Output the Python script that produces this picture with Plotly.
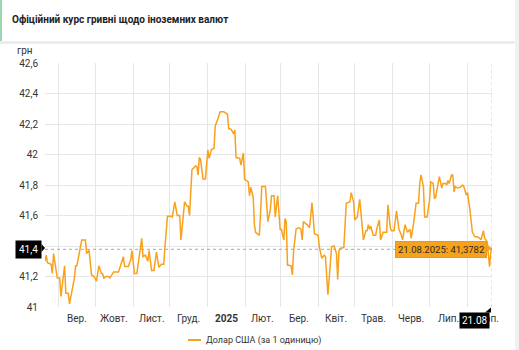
import pandas as pd
import plotly.graph_objects as go

# Official UAH/USD rate, Aug 2024 - Aug 2025
dates = [
    "2024-08-21", "2024-08-22", "2024-08-23", "2024-08-26", "2024-08-27", "2024-08-28", "2024-08-31",
    "2024-09-02", "2024-09-03", "2024-09-06", "2024-09-07", "2024-09-09", "2024-09-10", "2024-09-12",
    "2024-09-14", "2024-09-15", "2024-09-16", "2024-09-20", "2024-09-23", "2024-09-24", "2024-09-26",
    "2024-09-28", "2024-09-30", "2024-10-02", "2024-10-04", "2024-10-06", "2024-10-07", "2024-10-08",
    "2024-10-10", "2024-10-12", "2024-10-13", "2024-10-16", "2024-10-20", "2024-10-24", "2024-10-25",
    "2024-10-28", "2024-10-30", "2024-10-31", "2024-11-02", "2024-11-04", "2024-11-06", "2024-11-08",
    "2024-11-09", "2024-11-11", "2024-11-13", "2024-11-14", "2024-11-16", "2024-11-18", "2024-11-20",
    "2024-11-22", "2024-11-24", "2024-11-26", "2024-11-27", "2024-11-29", "2024-12-02", "2024-12-03",
    "2024-12-05", "2024-12-06", "2024-12-07", "2024-12-09", "2024-12-10", "2024-12-13", "2024-12-15",
    "2024-12-16", "2024-12-17", "2024-12-19", "2024-12-20", "2024-12-22", "2024-12-23", "2024-12-24",
    "2024-12-25", "2024-12-26", "2024-12-28", "2024-12-30", "2024-12-31", "2025-01-01", "2025-01-02",
    "2025-01-04", "2025-01-06", "2025-01-07", "2025-01-09", "2025-01-11", "2025-01-14", "2025-01-16",
    "2025-01-17", "2025-01-18", "2025-01-20", "2025-01-22", "2025-01-23", "2025-01-24", "2025-01-27",
    "2025-01-28", "2025-01-30", "2025-01-31", "2025-02-03", "2025-02-04", "2025-02-05", "2025-02-07",
    "2025-02-08", "2025-02-09", "2025-02-12", "2025-02-13", "2025-02-14", "2025-02-17", "2025-02-18",
    "2025-02-19", "2025-02-21", "2025-02-22", "2025-02-24", "2025-02-25", "2025-02-27", "2025-02-28",
    "2025-03-01", "2025-03-02", "2025-03-04", "2025-03-05", "2025-03-06", "2025-03-07", "2025-03-10",
    "2025-03-11", "2025-03-12", "2025-03-14", "2025-03-16", "2025-03-18", "2025-03-19", "2025-03-20",
    "2025-03-23", "2025-03-25", "2025-03-26", "2025-03-27", "2025-03-28", "2025-03-29", "2025-04-01",
    "2025-04-02", "2025-04-04", "2025-04-06", "2025-04-07", "2025-04-08", "2025-04-09", "2025-04-10",
    "2025-04-12", "2025-04-14", "2025-04-16", "2025-04-17", "2025-04-18", "2025-04-19", "2025-04-22",
    "2025-04-24", "2025-04-27", "2025-04-28", "2025-04-30", "2025-05-01", "2025-05-03", "2025-05-05",
    "2025-05-06", "2025-05-08", "2025-05-10", "2025-05-11", "2025-05-12", "2025-05-13", "2025-05-14",
    "2025-05-16", "2025-05-18", "2025-05-19", "2025-05-21", "2025-05-22", "2025-05-24", "2025-05-27",
    "2025-05-28", "2025-05-30", "2025-05-31", "2025-06-02", "2025-06-04", "2025-06-06", "2025-06-08",
    "2025-06-09", "2025-06-11", "2025-06-13", "2025-06-15", "2025-06-16", "2025-06-18", "2025-06-20",
    "2025-06-21", "2025-06-22", "2025-06-23", "2025-06-24", "2025-06-26", "2025-06-27", "2025-06-29",
    "2025-07-01", "2025-07-02", "2025-07-04", "2025-07-05", "2025-07-06", "2025-07-08", "2025-07-09",
    "2025-07-11", "2025-07-12", "2025-07-14", "2025-07-15", "2025-07-16", "2025-07-17", "2025-07-19",
    "2025-07-20", "2025-07-21", "2025-07-22", "2025-07-24", "2025-07-26", "2025-07-28", "2025-07-29",
    "2025-07-31", "2025-08-01", "2025-08-03", "2025-08-05", "2025-08-07", "2025-08-09", "2025-08-11",
    "2025-08-12", "2025-08-14", "2025-08-15", "2025-08-16", "2025-08-17", "2025-08-19", "2025-08-20",
    "2025-08-21",
]
usd_rate = [
    41.30, 41.34, 41.29, 41.28, 41.22, 41.35, 41.19,
    41.19, 41.07, 41.27, 41.09, 41.09, 41.02, 41.11,
    41.19, 41.27, 41.27, 41.44, 41.44, 41.35, 41.37,
    41.21, 41.20, 41.17, 41.27, 41.22, 41.22, 41.19,
    41.20, 41.20, 41.19, 41.23, 41.23, 41.33, 41.265,
    41.265, 41.31, 41.37, 41.22, 41.22, 41.35, 41.45,
    41.33, 41.34, 41.30, 41.37, 41.24, 41.24, 41.36,
    41.26, 41.28, 41.28, 41.40, 41.595, 41.595, 41.59,
    41.69, 41.64, 41.60, 41.60, 41.44, 41.69, 41.66,
    41.66, 41.60, 41.90, 41.91, 41.925, 41.92, 41.865,
    41.98, 41.97, 41.84, 41.84, 41.94, 42.03, 41.975,
    42.034, 42.04, 42.187, 42.23, 42.28, 42.28, 42.27,
    42.265, 42.17, 42.165, 42.135, 42.16, 41.98, 41.975,
    41.93, 42.01, 41.837, 41.82, 41.73, 41.785, 41.72,
    41.54, 41.49, 41.47, 41.61, 41.79, 41.79, 41.66,
    41.56, 41.64, 41.73, 41.73, 41.59, 41.73, 41.61,
    41.51, 41.51, 41.44, 41.58, 41.56, 41.275, 41.27,
    41.21, 41.37, 41.51, 41.52, 41.51, 41.44, 41.56,
    41.54, 41.52, 41.636, 41.684, 41.59, 41.48, 41.47,
    41.395, 41.32, 41.34, 41.33, 41.18, 41.08, 41.18,
    41.395, 41.40, 41.35, 41.18, 41.37, 41.385, 41.39,
    41.68, 41.69, 41.75, 41.69, 41.57, 41.59, 41.706,
    41.60, 41.44, 41.50, 41.50, 41.54, 41.51, 41.53,
    41.47, 41.47, 41.516, 41.57, 41.44, 41.49, 41.49,
    41.67, 41.52, 41.50, 41.50, 41.63, 41.51, 41.47,
    41.44, 41.54, 41.49, 41.51, 41.45, 41.55, 41.68,
    41.68, 41.68, 41.81, 41.866, 41.79, 41.59, 41.59,
    41.70, 41.82, 41.81, 41.71, 41.72, 41.81, 41.855,
    41.78, 41.81, 41.81, 41.80, 41.83, 41.81, 41.866,
    41.865, 41.756, 41.79, 41.78, 41.785, 41.80, 41.79,
    41.734, 41.75, 41.636, 41.49, 41.46, 41.46, 41.45,
    41.44, 41.50, 41.45, 41.44, 41.43, 41.265, 41.36,
    41.3782,
]

month_starts = ["2024-09-01", "2024-10-01", "2024-11-01", "2024-12-01", "2025-01-01", "2025-02-01",
                "2025-03-01", "2025-04-01", "2025-05-01", "2025-06-01", "2025-07-01", "2025-08-01"]
month_labels = ["Вер.", "Жовт.", "Лист.", "Груд.", "<b>2025</b>", "Лют.", "Бер.", "Квіт.",
                "Трав.", "Черв.", "Лип.", "Серп."]
y_ticks = [41.0, 41.2, 41.4, 41.6, 41.8, 42.0, 42.2, 42.4, 42.6]
y_tick_labels = ["41", "41,2", "41,4", "41,6", "41,8", "42", "42,2", "42,4", "42,6"]

title = "Офіційний курс гривні щодо іноземних валют"
series_name = "Долар США (за 1 одиницю)"

LINE = "#f8a11c"
GRID = "#e6e6e6"
TXT = "#333333"
FONT = "Roboto, Arial, sans-serif"

W, H = 519, 350
L, R, T, B = 45, 27, 63, 43
PW, PH = W - L - R, H - T - B


def px(x):
    return (x - L) / PW


def py(y):
    return (H - B - y) / PH


x_start, x_end = dates[0], dates[-1]
last_date, last_val = dates[-1], usd_rate[-1]
cross_label = "41,4"  # rounded value shown on the y axis under the crosshair

# the axis label hidden under the crosshair badge
shown_tick_labels = ["" if t == cross_label else t for t in y_tick_labels]

fig = go.Figure()
fig.add_trace(go.Scatter(
    x=pd.to_datetime(dates), y=usd_rate, mode="lines",
    line=dict(color=LINE, width=1.5), name=series_name, showlegend=False,
    hoverinfo="skip",
))
fig.add_trace(go.Scatter(
    x=[pd.Timestamp(last_date)], y=[last_val], mode="markers",
    marker=dict(color=LINE, size=4), showlegend=False, hoverinfo="skip",
))

shapes = [
    # page background outside the cards
    dict(type="rect", xref="paper", yref="paper", x0=px(515), x1=px(530), y0=py(-10), y1=py(360),
         fillcolor="#f1f1f1", line_width=0, layer="below"),
    dict(type="rect", xref="paper", yref="paper", x0=px(-10), x1=px(515), y0=py(41), y1=py(44),
         fillcolor="#ececec", line_width=0, layer="below"),
    # green accent of the header card
    dict(type="rect", xref="paper", yref="paper", x0=px(0), x1=px(2), y0=py(0), y1=py(41),
         fillcolor="#9ad6b4", line_width=0, layer="below"),
    # crosshair
    dict(type="line", xref="paper", yref="y", x0=0, x1=1, y0=last_val, y1=last_val,
         line=dict(color="#aaaaaa", width=1, dash="dot")),
    dict(type="line", xref="x", yref="paper", x0=last_date, x1=last_date, y0=0, y1=1,
         line=dict(color="#cccccc", width=1, dash="dot")),
    # pointers of the crosshair labels
    dict(type="path", xref="paper", yref="paper",
         path=f"M{px(41.5)},{py(244)} L{px(45)},{py(248)} L{px(41.5)},{py(252)} Z",
         fillcolor="#000000", line_width=0),
    dict(type="path", xref="paper", yref="paper",
         path=f"M{px(485)},{py(312.5)} L{px(491)},{py(307.5)} L{px(491)},{py(312.5)} Z",
         fillcolor="#000000", line_width=0),
    dict(type="path", xref="paper", yref="paper",
         path=f"M{px(487)},{py(244)} L{px(491)},{py(248)} L{px(487)},{py(252)} Z",
         fillcolor="#f7a21b", line_width=0),
    # legend sample
    dict(type="line", xref="paper", yref="paper", x0=px(188), x1=px(201), y0=py(340), y1=py(340),
         line=dict(color=LINE, width=2)),
]

annotations = [
    dict(text=f"<b>{title}</b>", xref="paper", yref="paper", x=px(10), y=py(19),
         xanchor="left", yanchor="middle", showarrow=False,
         font=dict(family=FONT, size=10, color="#222222")),
    dict(text="грн", xref="paper", yref="paper", x=px(35), y=py(50),
         xanchor="right", yanchor="middle", showarrow=False,
         font=dict(family=FONT, size=10, color=TXT)),
    dict(text=series_name, xref="paper", yref="paper", x=px(204), y=py(340),
         xanchor="left", yanchor="middle", showarrow=False,
         font=dict(family=FONT, size=9, color=TXT)),
]

# month labels centred inside each month
ms = pd.to_datetime(month_starts)
bounds = list(ms) + [ms[-1] + pd.offsets.MonthBegin(1)]
for i, lab in enumerate(month_labels):
    mid = bounds[i] + (bounds[i + 1] - bounds[i]) / 2
    annotations.append(dict(text=lab, xref="x", yref="paper", x=mid, y=py(318),
                            xanchor="center", yanchor="middle", showarrow=False,
                            font=dict(family=FONT, size=10, color=TXT)))

# crosshair labels and tooltip
annotations += [
    dict(text=cross_label, xref="paper", yref="y", x=px(42), y=last_val,
         xanchor="right", yanchor="middle", showarrow=False, bgcolor="#000000",
         borderpad=3, font=dict(family=FONT, size=10, color="#ffffff")),
    dict(text="21.08", xref="paper", yref="paper", x=px(490), y=py(312),
         xanchor="right", yanchor="top", showarrow=False, bgcolor="#000000",
         borderpad=2, font=dict(family=FONT, size=10, color="#ffffff")),
    dict(text=f"21.08.2025: {str(last_val).replace('.', ',')}", xref="paper", yref="y",
         x=px(487), y=last_val, xanchor="right", yanchor="middle", showarrow=False,
         bgcolor="#f7a21b", bordercolor="#ee951a", borderwidth=1, borderpad=2,
         font=dict(family=FONT, size=9.5, color="#2b2b2b")),
]

fig.update_layout(
    width=W, height=H,
    margin=dict(l=L, r=R, t=T, b=B, pad=0),
    paper_bgcolor="#ffffff", plot_bgcolor="#ffffff",
    font=dict(family=FONT, size=10, color=TXT),
    shapes=shapes, annotations=annotations,
    xaxis=dict(type="date", range=[x_start, x_end], tickmode="array", tickvals=month_starts,
               showticklabels=False, showgrid=True, gridcolor=GRID, gridwidth=1,
               zeroline=False, showline=False, ticks=""),
    yaxis=dict(range=[41.0, 42.6], tickmode="array", tickvals=y_ticks, ticktext=shown_tick_labels,
               showgrid=True, gridcolor=GRID, gridwidth=1, zeroline=False, showline=False,
               ticks="", ticklabelstandoff=6, tickfont=dict(family=FONT, size=10, color=TXT)),
    hovermode=False,
)

fig.write_html("out.html")
